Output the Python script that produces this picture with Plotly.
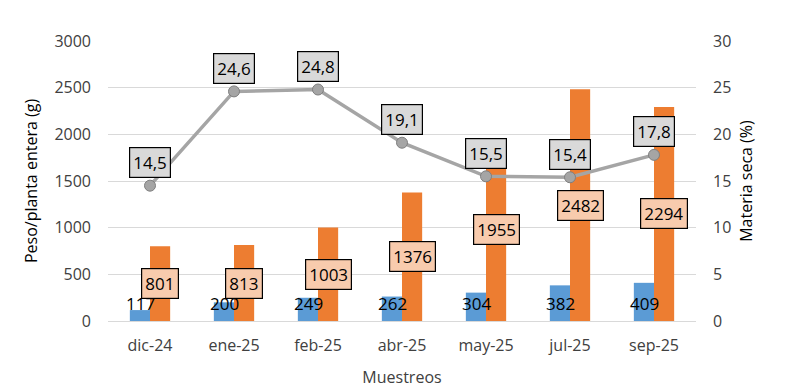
import plotly.graph_objects as go

categorias = ["dic-24", "ene-25", "feb-25", "abr-25", "may-25", "jul-25", "sep-25"]
peso_seco = [117, 200, 249, 262, 304, 382, 409]
peso_fresco = [801, 813, 1003, 1376, 1955, 2482, 2294]
materia_seca = [14.5, 24.6, 24.8, 19.1, 15.5, 15.4, 17.8]

def fmt(v):
    return f"{v:.1f}".replace(".", ",")

FONT = "Open Sans"
fig = go.Figure()
fig.add_trace(go.Bar(x=categorias, y=peso_seco, name="Peso seco",
                     marker=dict(color="#5B9BD5", line=dict(width=0))))
fig.add_trace(go.Bar(x=categorias, y=peso_fresco, name="Peso fresco",
                     marker=dict(color="#ED7D31", line=dict(width=0))))
fig.add_trace(go.Scatter(x=categorias, y=materia_seca, name="Materia seca", yaxis="y2",
                         mode="lines+markers",
                         line=dict(color="#A5A5A5", width=3.5),
                         marker=dict(size=11, color="#A5A5A5", line=dict(color="#7F7F7F", width=1))))

ann = []
for c, v in zip(categorias, peso_seco):
    ann.append(dict(x=c, y=190, xref="x", yref="y", text=str(v), showarrow=False,
                    xshift=-10, font=dict(size=17, color="#000000", family=FONT)))
for c, v in zip(categorias, peso_fresco):
    ann.append(dict(x=c, y=v / 2, xref="x", yref="y", text=str(v), showarrow=False,
                    xshift=10, font=dict(size=17, color="#000000", family=FONT),
                    bgcolor="#F8CBAD", bordercolor="#000000", borderwidth=1.2, borderpad=3))
for c, v in zip(categorias, materia_seca):
    ann.append(dict(x=c, y=v, xref="x", yref="y2", text=fmt(v), showarrow=False,
                    yshift=23, font=dict(size=17, color="#000000", family=FONT),
                    bgcolor="#D9D9D9", bordercolor="#000000", borderwidth=1.2, borderpad=3))

fig.update_layout(
    width=790, height=391,
    margin=dict(l=108, r=94, t=41, b=70),
    paper_bgcolor="white", plot_bgcolor="white",
    barmode="group", bargap=0.52, bargroupgap=0,
    showlegend=False,
    font=dict(family=FONT, color="#404040"),
    xaxis=dict(title=dict(text="Muestreos", font=dict(size=16, color="#404040"), standoff=16),
               tickfont=dict(size=16, color="#404040"), showgrid=False, automargin=False,
               showline=True, linecolor="#D9D9D9", ticks="", ticklabelstandoff=10),
    yaxis=dict(title=dict(text="Peso/planta entera (g)", font=dict(size=16, color="#000000"), standoff=12),
               range=[0, 3000], dtick=500, tickfont=dict(size=16, color="#404040"),
               gridcolor="#D9D9D9", zeroline=False, ticklabelstandoff=16),
    yaxis2=dict(title=dict(text="Materia seca (%)", font=dict(size=16, color="#000000"), standoff=10),
                range=[0, 30], dtick=5, overlaying="y", side="right",
                tickfont=dict(size=16, color="#404040"), showgrid=False, zeroline=False,
                ticklabelstandoff=16),
    annotations=ann,
)

fig.write_html("out.html")
